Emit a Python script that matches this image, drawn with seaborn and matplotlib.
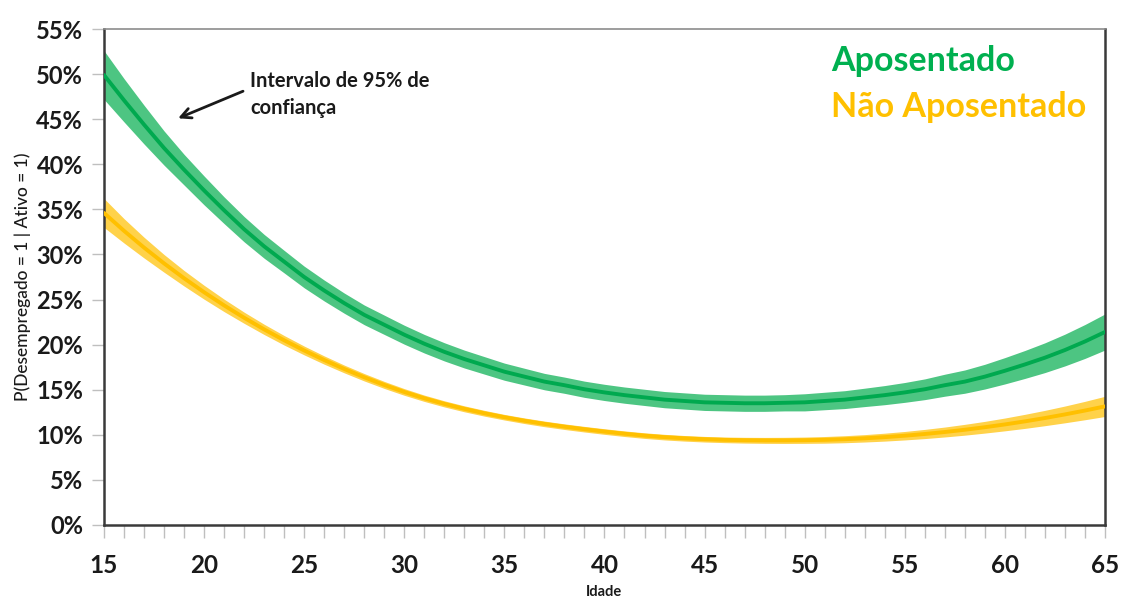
import numpy as np
import pandas as pd
import matplotlib
matplotlib.use("Agg")
import matplotlib.pyplot as plt
from matplotlib.ticker import MultipleLocator, FuncFormatter
import seaborn as sns

# Predicted probability of unemployment by age (%), yearly, with the
# half-width of the 95% confidence interval
idade = list(range(15, 66))

aposentado = [49.9, 47.1, 44.4, 41.8, 39.4, 37.1, 34.9, 32.8, 30.9, 29.2,
              27.5, 26.0, 24.6, 23.3, 22.2, 21.1, 20.1, 19.2, 18.4, 17.7,
              17.0, 16.45, 15.9, 15.5, 15.05, 14.7, 14.4, 14.15, 13.9, 13.75,
              13.6, 13.55, 13.5, 13.5, 13.55, 13.6, 13.75, 13.9, 14.15, 14.4,
              14.7, 15.05, 15.5, 15.9, 16.45, 17.1, 17.8, 18.55, 19.4, 20.35,
              21.4]
ic_aposentado = [2.7, 2.4, 2.15, 1.9, 1.7, 1.6, 1.48, 1.4, 1.32, 1.25,
                 1.2, 1.16, 1.12, 1.09, 1.07, 1.05, 1.03, 1.01, 0.99, 0.97,
                 0.95, 0.93, 0.91, 0.9, 0.9, 0.9, 0.9, 0.9, 0.9, 0.9,
                 0.9, 0.9, 0.9, 0.9, 0.9, 0.95, 0.97, 0.99, 1.02, 1.06,
                 1.1, 1.15, 1.22, 1.29, 1.37, 1.46, 1.55, 1.65, 1.76, 1.88,
                 2.0]

nao_aposentado = [34.6, 32.62, 30.76, 29.01, 27.36, 25.81, 24.35, 22.98, 21.69, 20.48,
                  19.35, 18.29, 17.30, 16.38, 15.53, 14.75, 14.05, 13.43, 12.88, 12.39,
                  11.95, 11.56, 11.21, 10.90, 10.62, 10.36, 10.12, 9.91, 9.74, 9.61,
                  9.51, 9.44, 9.40, 9.38, 9.38, 9.40, 9.44, 9.51, 9.61, 9.74,
                  9.90, 10.09, 10.31, 10.56, 10.84, 11.15, 11.49, 11.86, 12.26, 12.69,
                  13.15]
ic_nao_aposentado = [1.6, 1.35, 1.15, 0.98, 0.86, 0.77, 0.69, 0.62, 0.57, 0.53,
                     0.49, 0.46, 0.43, 0.41, 0.39, 0.37, 0.35, 0.34, 0.33, 0.32,
                     0.31, 0.31, 0.31, 0.31, 0.31, 0.31, 0.31, 0.31, 0.31, 0.31,
                     0.31, 0.31, 0.32, 0.33, 0.34, 0.35, 0.37, 0.39, 0.41, 0.44,
                     0.47, 0.51, 0.55, 0.6, 0.65, 0.71, 0.78, 0.85, 0.93, 1.02,
                     1.12]

series_names = ["Aposentado", "Não Aposentado"]
xticks = [15, 20, 25, 30, 35, 40, 45, 50, 55, 60, 65]

verde, verde_banda = "#00A94F", "#4DC582"
amarelo, amarelo_banda = "#FFC000", "#FFD24A"

df = pd.DataFrame({
    "Idade": idade * 2,
    "p": aposentado + nao_aposentado,
    "grupo": [series_names[0]] * len(idade) + [series_names[1]] * len(idade),
})

sns.set_theme(style="white")
plt.rcParams["font.family"] = ["Lato", "DejaVu Sans"]

fig = plt.figure(figsize=(11.22, 6.01), dpi=100)
ax = fig.add_axes([0.0927, 0.1265, 0.8921, 0.8252])

for centro, ic, cor in [(aposentado, ic_aposentado, verde_banda),
                        (nao_aposentado, ic_nao_aposentado, amarelo_banda)]:
    c = np.array(centro)
    h = np.array(ic)
    ax.fill_between(idade, c - h, c + h, color=cor, lw=0, zorder=2)

sns.lineplot(data=df, x="Idade", y="p", hue="grupo",
             palette={series_names[0]: verde, series_names[1]: amarelo},
             linewidth=2.8, legend=False, ax=ax, zorder=3)

ax.set_xlim(15, 65)
ax.set_ylim(0, 55)
ax.yaxis.set_major_locator(MultipleLocator(5))
ax.yaxis.set_major_formatter(FuncFormatter(lambda v, _: f"{v:.0f}%"))
ax.set_xticks(xticks)
ax.xaxis.set_minor_locator(MultipleLocator(1))

ax.tick_params(axis="y", which="major", direction="out", left=True, length=9,
               width=1, color="#bfbfbf", pad=6, labelsize=17)
ax.tick_params(axis="x", which="both", direction="out", bottom=True, length=9,
               width=1, color="#bfbfbf", pad=12, labelsize=17.5)
for lab in ax.get_xticklabels() + ax.get_yticklabels():
    lab.set_fontweight("bold")
    lab.set_color("#1a1a1a")

for side in ["left", "bottom", "right"]:
    ax.spines[side].set_color("#3a3a3a")
    ax.spines[side].set_linewidth(1.8)
ax.spines["top"].set_color("#8c8c8c")
ax.spines["top"].set_linewidth(1.2)

ax.set_xlabel("Idade", fontsize=10.5, fontweight="bold", color="#1a1a1a", labelpad=6)
ax.set_ylabel("P(Desempregado = 1 | Ativo = 1)", fontsize=12.5, color="#1a1a1a",
              fontweight="medium", labelpad=4)

ax.text(51.3, 51.5, series_names[0], color="#00B050", fontsize=24.5, fontweight="bold",
        va="center", ha="left")
ax.text(51.3, 46.4, series_names[1], color=amarelo, fontsize=24.5, fontweight="bold",
        va="center", ha="left")

ax.annotate("Intervalo de 95% de\nconfiança", xy=(18.7, 45.1), xytext=(22.3, 47.7),
            fontsize=14.5, fontweight="bold", color="#1a1a1a", va="center", ha="left",
            linespacing=1.45,
            arrowprops=dict(arrowstyle="->", color="#1a1a1a", lw=2, mutation_scale=18,
                            shrinkA=3, shrinkB=0, relpos=(0, 0.64)))

fig.savefig("out.png", dpi=100, facecolor="white")
